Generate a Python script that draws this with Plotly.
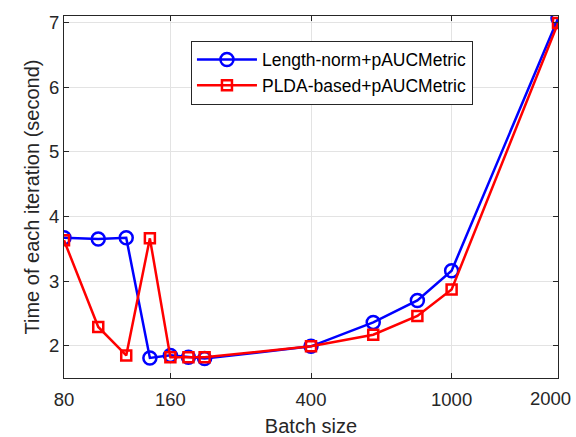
import math
import plotly.graph_objects as go

batch_sizes = [80, 100, 120, 140, 160, 180, 200, 400, 600, 800, 1000, 2000]
length_norm = [3.67, 3.65, 3.67, 1.81, 1.85, 1.82, 1.80, 1.99, 2.36, 2.70, 3.16, 7.06]
plda_based = [3.63, 2.29, 1.85, 3.66, 1.82, 1.82, 1.82, 1.99, 2.17, 2.46, 2.87, 6.99]
x_ticks = [80, 160, 400, 1000, 2000]
x_tick_labels = ["80", "160", "400", "1000", ""]
last_tick_label = "2000"
y_ticks = [2, 3, 4, 5, 6, 7]

font_family = "Liberation Sans, Arial, sans-serif"
dark = "#262626"
tick_font = dict(family=font_family, size=18.5, color=dark)

fig = go.Figure()
fig.add_trace(go.Scatter(
    x=batch_sizes, y=length_norm, mode="lines+markers",
    name="Length-norm+pAUCMetric",
    line=dict(color="#0000ff", width=2.5),
    marker=dict(symbol="circle-open", size=13, color="#0000ff", line=dict(width=2.5)),
))
fig.add_trace(go.Scatter(
    x=batch_sizes, y=plda_based, mode="lines+markers",
    name="PLDA-based+pAUCMetric",
    line=dict(color="#ff0000", width=2.5),
    marker=dict(symbol="square-open", size=10, color="#ff0000", line=dict(width=2.5)),
))

axis_common = dict(
    showline=True, linecolor=dark, linewidth=1, mirror="ticks",
    ticks="inside", ticklen=5, tickcolor=dark,
    showgrid=True, gridcolor="#e3e3e3", gridwidth=1,
    zeroline=False, automargin=False,
    tickfont=tick_font,
    title_font=dict(family=font_family, size=20, color=dark),
)

fig.update_xaxes(
    type="log", range=[math.log10(80), math.log10(2000)],
    tickvals=x_ticks, ticktext=x_tick_labels,
    ticklabelstandoff=5,
    title_text="Batch size", title_standoff=10,
    **axis_common,
)
fig.update_yaxes(
    range=[1.5, 7.1], tickvals=y_ticks,
    title_text="Time of each iteration (second)", title_standoff=4,
    **axis_common,
)

fig.add_annotation(
    x=math.log10(x_ticks[-1]), xref="x", y=0, yref="paper",
    text=last_tick_label, showarrow=False,
    xanchor="right", yanchor="top", xshift=15, yshift=-8,
    font=tick_font,
)

fig.update_layout(
    width=576, height=437,
    margin=dict(l=64, r=18, t=16, b=59),
    paper_bgcolor="white", plot_bgcolor="white",
    font=dict(family=font_family, color=dark),
    legend=dict(
        x=0.257, y=0.932, xanchor="left", yanchor="top",
        bgcolor="white", bordercolor=dark, borderwidth=1,
        font=dict(family=font_family, size=17.5, color="black"),
        itemwidth=60, tracegroupgap=0,
    ),
    showlegend=True,
)

fig.write_html("out.html", config={"displayModeBar": False},
               post_script="document.body.style.margin='0';")
